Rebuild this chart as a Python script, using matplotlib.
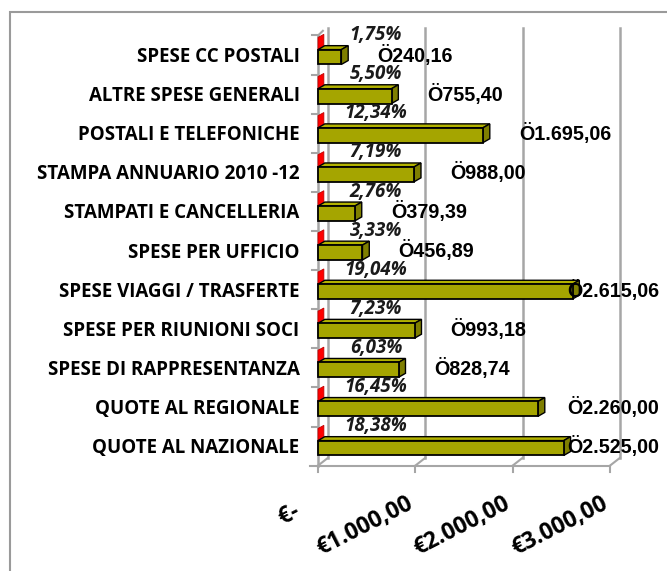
import matplotlib
matplotlib.use("Agg")
import matplotlib.pyplot as plt
from matplotlib.patches import Polygon, Rectangle

categories = [
    "QUOTE AL NAZIONALE",
    "QUOTE AL REGIONALE",
    "SPESE DI RAPPRESENTANZA",
    "SPESE PER RIUNIONI SOCI",
    "SPESE VIAGGI / TRASFERTE",
    "SPESE PER UFFICIO",
    "STAMPATI E CANCELLERIA",
    "STAMPA ANNUARIO 2010 -12",
    "POSTALI E TELEFONICHE",
    "ALTRE SPESE GENERALI",
    "SPESE CC POSTALI",
]
amounts = [2525.00, 2260.00, 828.74, 993.18, 2615.06, 456.89, 379.39, 988.00, 1695.06, 755.40, 240.16]
amount_labels = ["Ö2.525,00", "Ö2.260,00", "Ö828,74", "Ö993,18", "Ö2.615,06", "Ö456,89",
                 "Ö379,39", "Ö988,00", "Ö1.695,06", "Ö755,40", "Ö240,16"]
shares = [0.1838, 0.1645, 0.0603, 0.0723, 0.1904, 0.0333, 0.0276, 0.0719, 0.1234, 0.0550, 0.0175]
share_labels = ["18,38%", "16,45%", "6,03%", "7,23%", "19,04%", "3,33%",
                "2,76%", "7,19%", "12,34%", "5,50%", "1,75%"]
xticks = [0, 1000, 2000, 3000]
xtick_labels = ["€-   ", "€1.000,00", "€2.000,00", "€3.000,00"]

W, H = 667, 571
fig = plt.figure(figsize=(W / 100, H / 100), dpi=100)
# chart border (runs off the right and bottom edge)
fig.patches.append(Rectangle((10 / W, -0.05), 1.1, 1 - 12 / H + 0.05, transform=fig.transFigure,
                             fill=False, edgecolor="#9a9a9a", linewidth=1.5))

ax = fig.add_axes([318 / W, (H - 465.6) / H, 292 / W, (465.6 - 35.5) / H])
ymin, ymax = -0.45, 10.55
ax.set_xlim(0, 3000)
ax.set_ylim(ymin, ymax)
ax.axis("off")

grid_c = "#a6a6a6"
dxb, dyb = 103, 0.2      # back plane shift
top_back = 10.75

# back gridlines, floor and left wall
for k, xt in enumerate(xticks):
    ax.plot([xt + dxb, xt + dxb], [ymin + dyb, top_back], color=grid_c, lw=1.8, clip_on=False, zorder=1)
    ax.plot([xt, xt + dxb], [ymin, ymin + dyb], color=grid_c, lw=1.5, clip_on=False, zorder=1)
    ax.plot([xt, xt], [ymin, ymin - 0.16], color=grid_c, lw=1.5, clip_on=False, zorder=1)
ax.plot([0, 3000], [ymin, ymin], color=grid_c, lw=1.5, clip_on=False, zorder=1)
ax.plot([0, 0], [ymin, ymax], color=grid_c, lw=1.8, clip_on=False, zorder=1)
for i in range(len(categories)):
    yb = i + 0.55
    ax.plot([-60, 0], [yb, yb], color=grid_c, lw=1.5, clip_on=False, zorder=1)
ax.plot([-80, 0], [ymin, ymin], color=grid_c, lw=1.5, clip_on=False, zorder=1)
ax.plot([0, 50], [ymax, ymax + 0.12], color=grid_c, lw=1.5, clip_on=False, zorder=1)

olive, olive_dark, olive_top = "#a5a500", "#7f7f00", "#b2b200"
h = 0.38
dx, dy = 70, 0.1


def bar3d(x0, w, yc, hh, face, side, top):
    y0, y1 = yc - hh / 2, yc + hh / 2
    x1 = x0 + w
    ax.add_patch(Polygon([(x0, y1), (x0 + dx, y1 + dy), (x1 + dx, y1 + dy), (x1, y1)],
                         closed=True, facecolor=top, edgecolor="black", lw=1, zorder=3, clip_on=False))
    ax.add_patch(Polygon([(x1, y0), (x1 + dx, y0 + dy), (x1 + dx, y1 + dy), (x1, y1)],
                         closed=True, facecolor=side, edgecolor="black", lw=1, zorder=3, clip_on=False))
    if w > 0:
        ax.add_patch(Rectangle((x0, y0), w, hh, facecolor=face, edgecolor="black", lw=1.3,
                               zorder=4, clip_on=False))


for i, (v, s) in enumerate(zip(amounts, shares)):
    # share series drawn on the same scale: only the depth is visible
    ax.add_patch(Polygon([(s, i + 0.16), (s + 60, i + 0.24), (s + 60, i + 0.58), (s, i + 0.50)],
                         closed=True, facecolor="#ff0000", edgecolor="#c00000", lw=0.6, zorder=2,
                         clip_on=False))
    bar3d(0, v, i, h, olive, olive_dark, olive_top)

    ax.text(595, i + 0.56, share_labels[i], ha="center", va="center", fontsize=13.5,
            fontweight="bold", style="italic", family="Open Sans", color="#1a1a1a", zorder=5)
    lx = min(v + 370, 2560)
    ax.text(lx, i + 0.04, amount_labels[i], ha="left", va="center", fontsize=14.2,
            fontweight="bold", family="Liberation Sans", color="black", zorder=5, clip_on=False)

    ax.text(-190, i, categories[i], ha="right", va="center", fontsize=13.5, fontweight="bold",
            family="Open Sans", color="black")

for xt, lab in zip(xticks, xtick_labels):
    ax.text(xt - 40, ymin - 0.95, lab, ha="right", va="center", rotation=27, rotation_mode="anchor",
            fontsize=16.5, fontweight="bold", family="Open Sans", color="black")

fig.savefig("out.png", dpi=100)
